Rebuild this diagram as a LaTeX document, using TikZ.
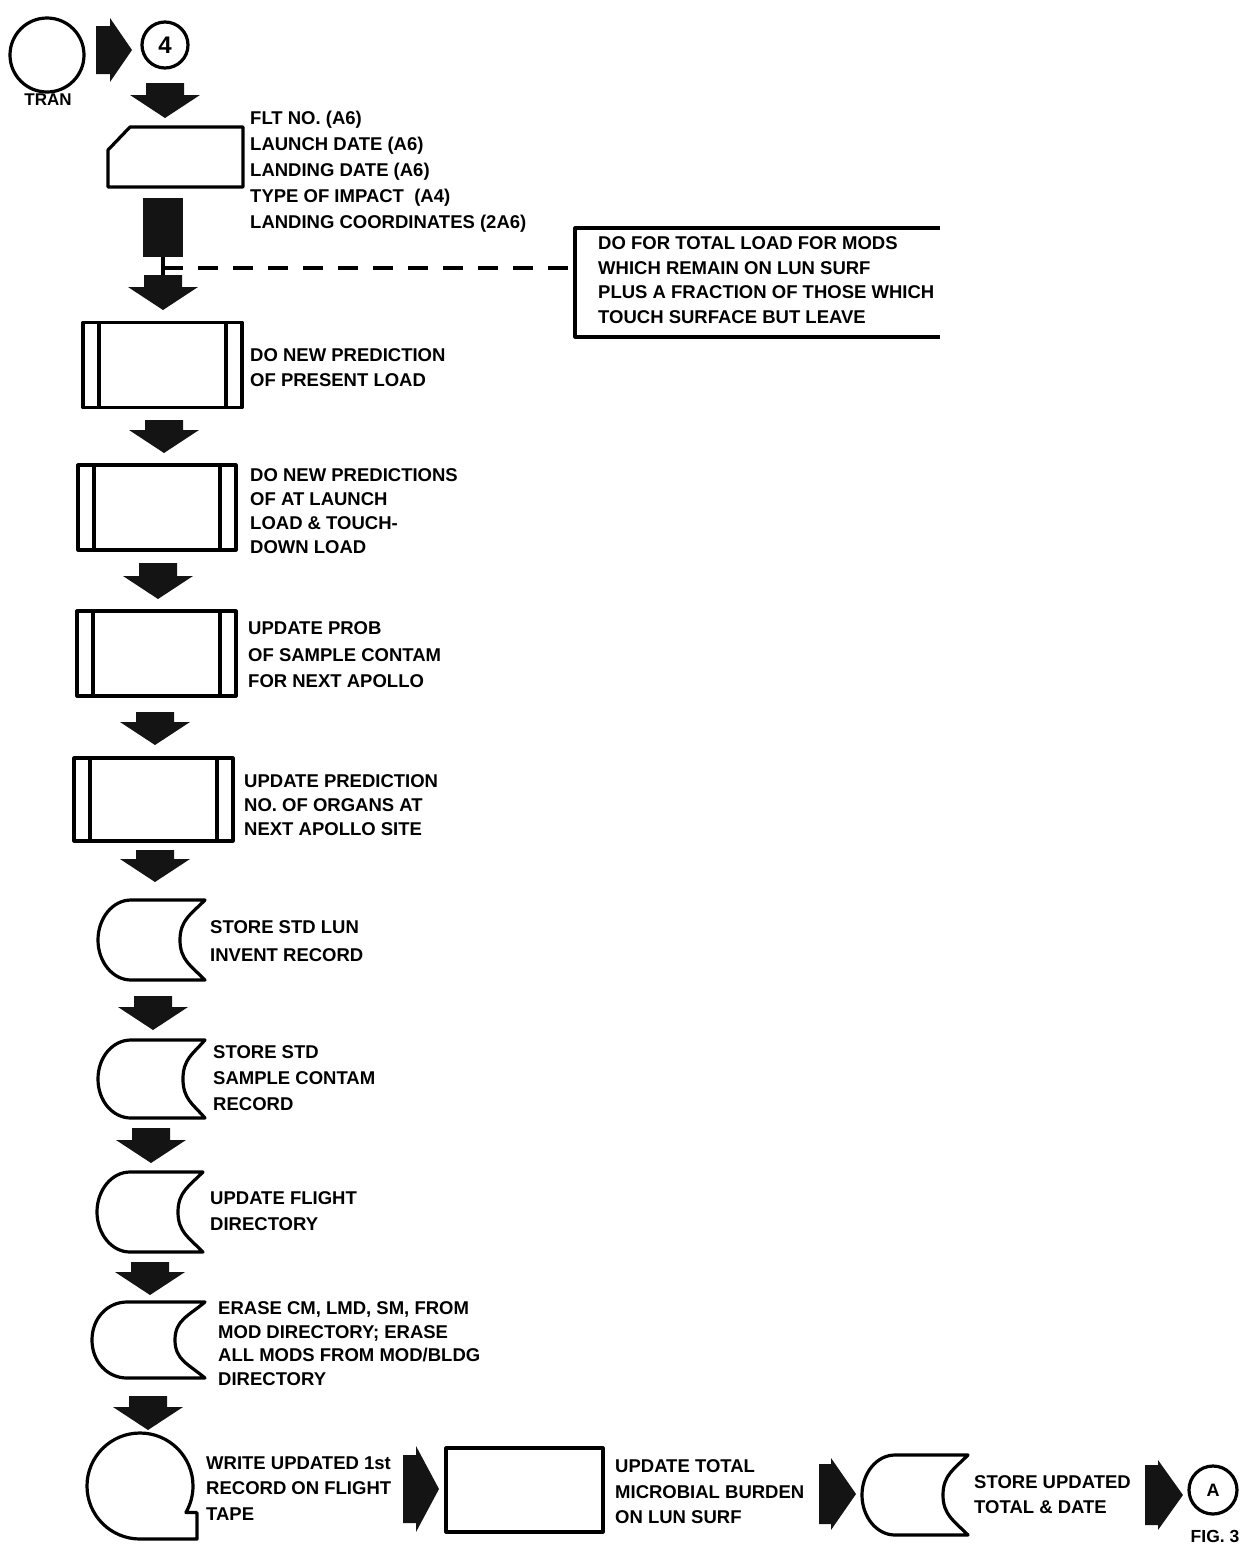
\documentclass[tikz,border=0pt]{standalone}
\usepackage{fontspec}
\setmainfont{Liberation Sans}
\definecolor{inkblack}{RGB}{20,20,20}
\usetikzlibrary{calc}

\newcommand\lblsize[1]{\bfseries\fontsize{18.5}{#1}\selectfont}
% storage symbol drawn on a ghost node: name, bulge width, concave depth
\newcommand\storeshape[3]{%
  \draw[outline] ($(#1.north west)+(#2,0)$) -- (#1.north east)
    .. controls ($(#1.north east)+(-0.55*#3,14)$) and ($(#1.east)+(-#3,-20)$) .. ($(#1.east)+(-#3,0)$)
    .. controls ($(#1.east)+(-#3,20)$) and ($(#1.south east)+(-0.55*#3,-14)$) .. (#1.south east)
    -- ($(#1.south west)+(#2,0)$)
    .. controls ($(#1.south west)+(0.448*#2,0)$) and ($(#1.west)+(0,22)$) .. (#1.west)
    .. controls ($(#1.west)+(0,-22)$) and ($(#1.north west)+(0.448*#2,0)$) .. ($(#1.north west)+(#2,0)$);}

\begin{document}
\begin{tikzpicture}[x=1pt, y=-1pt,
    outline/.style={line width=3.2pt, line join=round},
    ghost/.style={inner sep=0pt, outer sep=0pt},
    proc/.style={ghost, draw, outline, minimum width=159pt, minimum height=85pt},
    conn/.style={ghost, circle, draw, outline},
    lbl/.style={anchor=north west, inner sep=0pt, align=left, font=\lblsize{#1}},
    lbl/.default=25,
    pics/dnarr/.style={code={
      \fill[inkblack] (-19,0) -- (19,0) -- (19,#1) -- (35,#1) -- (0,#1+23) -- (-35,#1) -- (-19,#1) -- cycle;}},
    pics/rtarr/.style n args={4}{code={
      \fill[inkblack] (0,-#2) -- (#1,-#2) -- (#1,-#4) -- (#1+#3,0) -- (#1,#4) -- (#1,#2) -- (0,#2) -- cycle;}}]
\useasboundingbox (0,0) rectangle (1251,1548);

% entry connectors
\node[conn, minimum size=74pt] (tran) at (47,55) {};
\node[font=\bfseries\fontsize{17}{17}\selectfont] (tranlbl) at (48,100) {TRAN};
\pic at (96,50) {rtarr={14}{24}{22}{32}};
\node[conn, minimum size=46pt, font=\bfseries\fontsize{24}{24}\selectfont] (four) at (165,45) {4};
\pic at (165,83) {dnarr=12};

% input card
\node[ghost, minimum width=135pt, minimum height=60pt] (card) at (175.5,157) {};
\draw[outline] (card.south west) -- ($(card.north west)+(0,23)$) -- ($(card.north west)+(22,0)$)
  -- (card.north east) -- (card.south east) -- cycle;
\node[lbl=26] (cardtxt) at (250,110.4) {FLT NO. (A6)\\LAUNCH DATE (A6)\\LANDING DATE (A6)\\TYPE OF IMPACT~\ (A4)\\LANDING COORDINATES (2A6)};

% block, stem and note
\node[ghost, fill=inkblack, minimum width=40pt, minimum height=59pt] (blk) at (163,227.5) {};
\coordinate (jn) at (163,268);
\draw[outline] (blk.south) -- (163,277);
\pic at (163,275) {dnarr=12};
\node[ghost, minimum width=365pt, minimum height=109pt] (note) at (757.5,282.5) {};
\draw[outline] (note.north east) -- (note.north west) -- (note.south west) -- (note.south east);
\draw[outline, dash pattern=on 20pt off 15pt] (jn) -- (jn -| note.west);
\node[lbl=24.5] (notetxt) at (598,236.4) {DO FOR TOTAL LOAD FOR MODS\\WHICH REMAIN ON LUN SURF\\PLUS A FRACTION OF THOSE WHICH\\TOUCH SURFACE BUT LEAVE};

% predefined processes
\node[proc] (pp1) at (162.5,365) {};
\node[lbl=25] (pp1txt) at (250,348.4) {DO NEW PREDICTION\\OF PRESENT LOAD};
\pic at (164,420) {dnarr=10};
\node[proc, minimum width=158pt] (pp2) at (157,507.5) {};
\node[lbl=24] (pp2txt) at (250,468.4) {DO NEW PREDICTIONS\\OF AT LAUNCH\\LOAD \& TOUCH-\\DOWN LOAD};
\pic at (158,563) {dnarr=13};
\node[proc] (pp3) at (156.5,653.5) {};
\node[lbl=26.5] (pp3txt) at (248,621.4) {UPDATE PROB\\OF SAMPLE CONTAM\\FOR NEXT APOLLO};
\pic at (155,712) {dnarr=10};
\node[proc, minimum height=83pt] (pp4) at (153.5,799.5) {};
\node[lbl=24] (pp4txt) at (244,774.4) {UPDATE PREDICTION\\NO. OF ORGANS AT\\NEXT APOLLO SITE};
\foreach \b in {pp1,pp2,pp3,pp4} {
  \draw[outline] ($(\b.north west)+(16,0)$) -- ($(\b.south west)+(16,0)$);
  \draw[outline] ($(\b.north east)+(-16,0)$) -- ($(\b.south east)+(-16,0)$);
}
\pic at (155,850) {dnarr=9};

% storage steps
\node[ghost, minimum width=107pt, minimum height=80pt] (st1) at (151.5,940) {};
\storeshape{st1}{33}{25}
\node[lbl=28] (st1txt) at (210,920.4) {STORE STD LUN\\INVENT RECORD};
\pic at (153,996) {dnarr=11};
\node[ghost, minimum width=107pt, minimum height=78pt] (st2) at (151.5,1079) {};
\storeshape{st2}{33}{22}
\node[lbl=26] (st2txt) at (213,1045.4) {STORE STD\\SAMPLE CONTAM\\RECORD};
\pic at (151,1128) {dnarr=12};
\node[ghost, minimum width=106pt, minimum height=80pt] (st3) at (150,1212) {};
\storeshape{st3}{33}{25}
\node[lbl=26] (st3txt) at (210,1191.4) {UPDATE FLIGHT\\DIRECTORY};
\pic at (150,1262) {dnarr=10};
\node[ghost, minimum width=113pt, minimum height=76pt] (st4) at (148.5,1340) {};
\storeshape{st4}{35}{30}
\node[lbl=23.5] (st4txt) at (218,1301.4) {ERASE CM, LMD, SM, FROM\\MOD DIRECTORY; ERASE\\ALL MODS FROM MOD/BLDG\\DIRECTORY};
\pic at (148,1396) {dnarr=11};

% bottom row
\node[ghost, circle, minimum size=106pt] (tape) at (140,1486) {};
\draw[outline] (tape.south) arc[start angle=270, end angle=-30, radius=53pt] -- ++(11,0) -- (197,1539) -- cycle;
\node[lbl=25.5] (tapetxt) at (206,1456.4) {WRITE UPDATED 1st\\RECORD ON FLIGHT\\TAPE};
\pic at (403,1489) {rtarr={13}{34}{23}{43}};
\node[ghost, draw, outline, minimum width=157pt, minimum height=84pt] (upd) at (524.5,1490) {};
\node[lbl=25.5] (updtxt) at (615,1459.4) {UPDATE TOTAL\\MICROBIAL BURDEN\\ON LUN SURF};
\pic at (819,1494) {rtarr={12}{30}{25}{36}};
\node[ghost, minimum width=106pt, minimum height=80pt] (st5) at (915,1495) {};
\storeshape{st5}{33}{25}
\node[lbl=25] (st5txt) at (974,1475.4) {STORE UPDATED\\TOTAL \& DATE};
\pic at (1145,1495) {rtarr={13}{30}{25}{35}};
\node[conn, minimum size=48pt, font=\bfseries\fontsize{18}{18}\selectfont] (conA) at (1213,1490) {A};
\node[font=\bfseries\fontsize{17.5}{17.5}\selectfont] (figlbl) at (1215,1536) {FIG. 3};
\end{tikzpicture}
\end{document}
